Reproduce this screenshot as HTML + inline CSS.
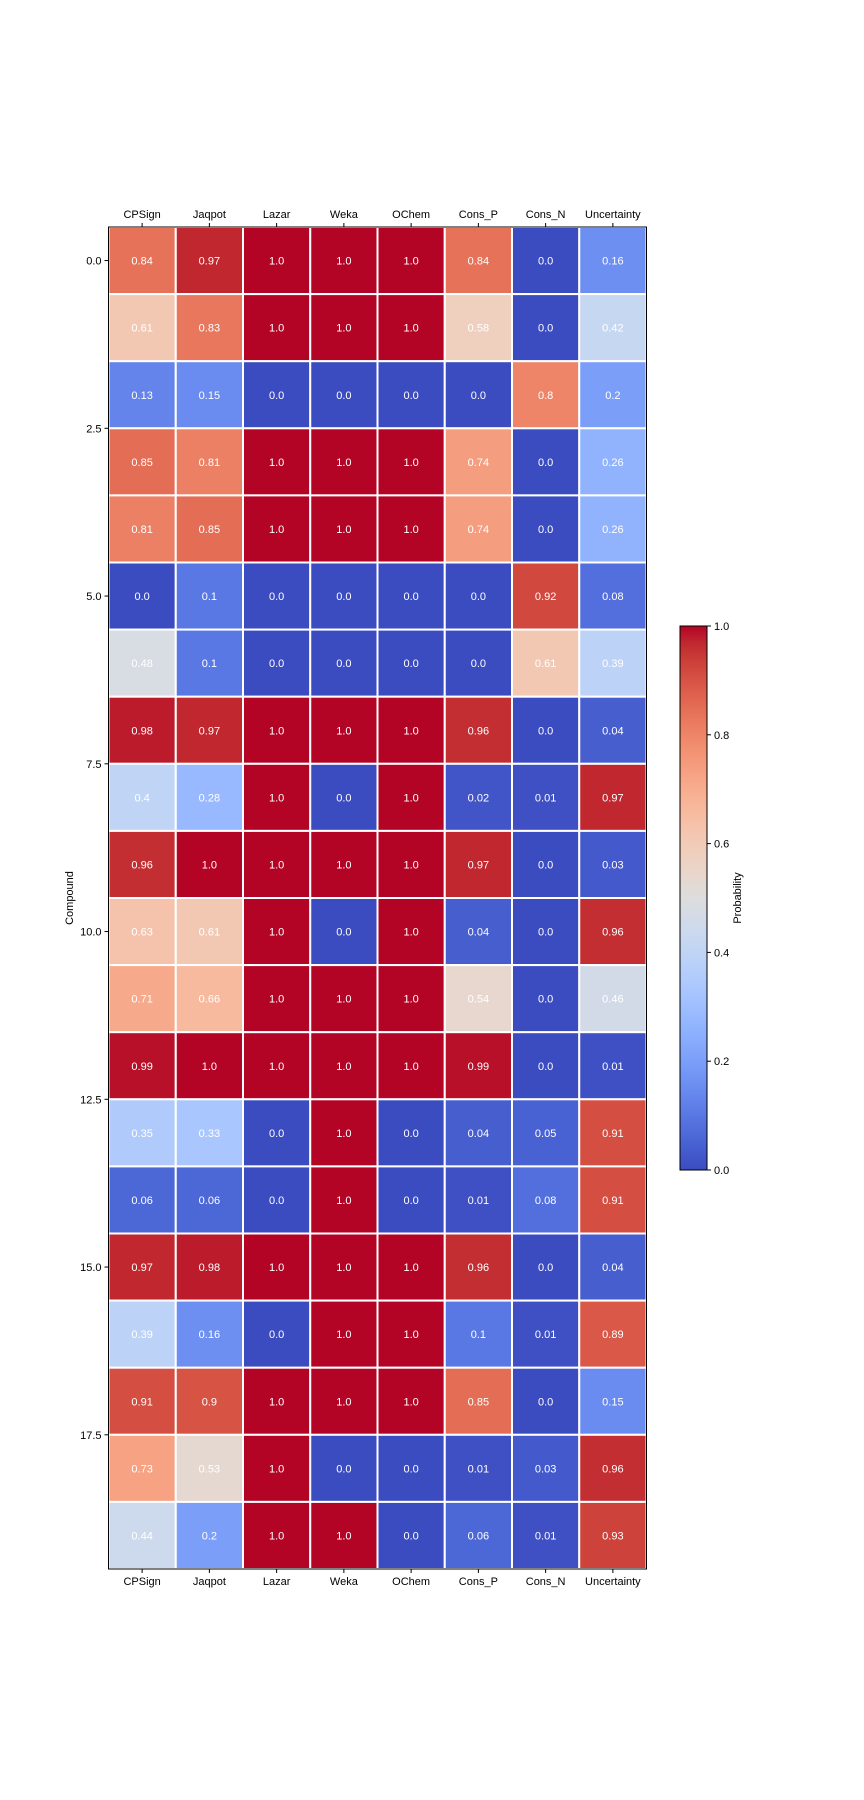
<!DOCTYPE html>
<html><head><meta charset="utf-8"><style>
html,body{margin:0;padding:0;background:#fff;}
svg{display:block;font-family:"Liberation Sans","DejaVu Sans",sans-serif;}
</style></head><body>
<svg id="chart" width="864" height="1800" viewBox="0 0 864 1800" xmlns="http://www.w3.org/2000/svg"></svg>
<script>
const columns = ["CPSign","Jaqpot","Lazar","Weka","OChem","Cons_P","Cons_N","Uncertainty"];
const row0 = [0.84,0.97,1.0,1.0,1.0,0.84,0.0,0.16];
const row1 = [0.61,0.83,1.0,1.0,1.0,0.58,0.0,0.42];
const row2 = [0.13,0.15,0.0,0.0,0.0,0.0,0.8,0.2];
const row3 = [0.85,0.81,1.0,1.0,1.0,0.74,0.0,0.26];
const row4 = [0.81,0.85,1.0,1.0,1.0,0.74,0.0,0.26];
const row5 = [0.0,0.1,0.0,0.0,0.0,0.0,0.92,0.08];
const row6 = [0.48,0.1,0.0,0.0,0.0,0.0,0.61,0.39];
const row7 = [0.98,0.97,1.0,1.0,1.0,0.96,0.0,0.04];
const row8 = [0.4,0.28,1.0,0.0,1.0,0.02,0.01,0.97];
const row9 = [0.96,1.0,1.0,1.0,1.0,0.97,0.0,0.03];
const row10 = [0.63,0.61,1.0,0.0,1.0,0.04,0.0,0.96];
const row11 = [0.71,0.66,1.0,1.0,1.0,0.54,0.0,0.46];
const row12 = [0.99,1.0,1.0,1.0,1.0,0.99,0.0,0.01];
const row13 = [0.35,0.33,0.0,1.0,0.0,0.04,0.05,0.91];
const row14 = [0.06,0.06,0.0,1.0,0.0,0.01,0.08,0.91];
const row15 = [0.97,0.98,1.0,1.0,1.0,0.96,0.0,0.04];
const row16 = [0.39,0.16,0.0,1.0,1.0,0.1,0.01,0.89];
const row17 = [0.91,0.9,1.0,1.0,1.0,0.85,0.0,0.15];
const row18 = [0.73,0.53,1.0,0.0,0.0,0.01,0.03,0.96];
const row19 = [0.44,0.2,1.0,1.0,0.0,0.06,0.01,0.93];
const rows = [row0,row1,row2,row3,row4,row5,row6,row7,row8,row9,row10,row11,row12,row13,row14,row15,row16,row17,row18,row19];
const yTicks = [0.0,2.5,5.0,7.5,10.0,12.5,15.0,17.5];
const cbTicks = [0.0,0.2,0.4,0.6,0.8,1.0];

const CW = [[59,76,192],[68,90,204],[77,104,215],[87,117,225],[98,130,234],[108,142,241],[119,154,247],[130,165,251],[141,176,254],[152,185,255],[163,194,255],[174,201,253],[184,208,249],[194,213,244],[204,217,238],[213,219,230],[221,221,221],[229,216,209],[236,211,197],[241,204,185],[245,196,173],[247,187,160],[247,177,148],[247,166,135],[244,154,123],[241,141,111],[236,127,99],[229,112,88],[222,96,77],[213,80,66],[203,62,56],[192,40,47],[180,4,38]];
function cmap(v){v=Math.max(0,Math.min(1,v));const p=v*32,i=Math.min(31,Math.floor(p)),f=p-i;const a=CW[i],b=CW[i+1];
return `rgb(${Math.round(a[0]+(b[0]-a[0])*f)},${Math.round(a[1]+(b[1]-a[1])*f)},${Math.round(a[2]+(b[2]-a[2])*f)})`;}

const L=108.5,R=646.5,T=227,B=1569;
const nC=columns.length,nR=rows.length;
const cw=(R-L)/nC,rh=(B-T)/nR;
const xPos=i=>L+i*cw;
const yPos=v=>T+(v+0.5)*rh;
const svg=document.getElementById('chart');
const NS="http://www.w3.org/2000/svg";
function mk(tag,attrs,txt){const e=document.createElementNS(NS,tag);for(const k in attrs)e.setAttribute(k,attrs[k]);if(txt!==undefined)e.textContent=txt;svg.appendChild(e);return e;}
function fmt(v){return Number.isInteger(v)?v.toFixed(1):String(v);}

rows.forEach((r,ri)=>{r.forEach((v,ci)=>{
  const c=mk('rect',{x:xPos(ci),y:T+ri*rh,width:cw,height:rh,fill:cmap(v),stroke:'#fff','stroke-width':2});
  
  
  const t=mk('text',{x:xPos(ci)+cw/2,y:T+ri*rh+rh/2+4,'text-anchor':'middle','font-size':11,fill:'#fff'},fmt(v));
  
  
});});
const fr=mk('rect',{x:L,y:T,width:R-L,height:B-T,fill:'none',stroke:'#000','stroke-width':1});



columns.forEach((c,i)=>{
  const cx=xPos(i)+cw/2;
  mk('line',{x1:cx,y1:T,x2:cx,y2:T-4,stroke:'#000'});
  mk('line',{x1:cx,y1:B,x2:cx,y2:B+4,stroke:'#000'});
  const t1=mk('text',{x:cx,y:T-9,'text-anchor':'middle','font-size':11,fill:'#000'},c);
  
  
  const t2=mk('text',{x:cx,y:B+16,'text-anchor':'middle','font-size':11,fill:'#000'},c);
  
  
});
yTicks.forEach(v=>{
  const y=yPos(v);
  mk('line',{x1:L,y1:y,x2:L-4,y2:y,stroke:'#000'});
  const t=mk('text',{x:L-7,y:y+4,'text-anchor':'end','font-size':11,fill:'#000'},v.toFixed(1));
  
  
});
const yl=mk('text',{x:0,y:0,transform:`translate(73,${(T+B)/2}) rotate(-90)`,'text-anchor':'middle','font-size':11,fill:'#000'},'Compound');



// colorbar
const cbL=680,cbR=707,cbT=626,cbB=1170;
const defs=mk('defs',{});
const g=document.createElementNS(NS,'linearGradient');g.setAttribute('id','cw');g.setAttribute('x1','0');g.setAttribute('y1','1');g.setAttribute('x2','0');g.setAttribute('y2','0');
for(let i=0;i<=32;i++){const s=document.createElementNS(NS,'stop');s.setAttribute('offset',i/32);s.setAttribute('stop-color',cmap(i/32));g.appendChild(s);}
defs.appendChild(g);
const cb=mk('rect',{x:cbL,y:cbT,width:cbR-cbL,height:cbB-cbT,fill:'url(#cw)',stroke:'#000','stroke-width':1});


cbTicks.forEach(v=>{
  const y=cbB-v*(cbB-cbT);
  mk('line',{x1:cbR,y1:y,x2:cbR+4,y2:y,stroke:'#000'});
  const t=mk('text',{x:cbR+7,y:y+4,'font-size':11,fill:'#000'},v.toFixed(1));
  
  
});
const cl=mk('text',{x:0,y:0,transform:`translate(741,${(cbT+cbB)/2}) rotate(-90)`,'text-anchor':'middle','font-size':11,fill:'#000'},'Probability');


</script>
</body></html>
